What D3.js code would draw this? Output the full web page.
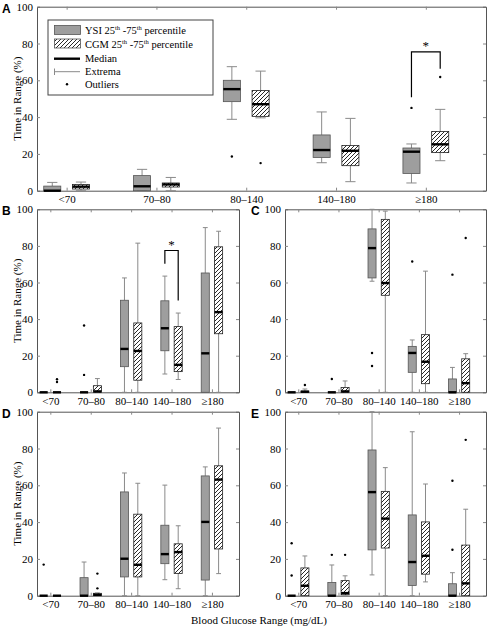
<!DOCTYPE html>
<html><head><meta charset="utf-8">
<script src="https://cdn.jsdelivr.net/npm/d3@7"></script>
<style>
body{margin:0;background:#fff;}
svg text{font-family:"Liberation Serif","Times New Roman",serif;}
</style></head>
<body>
<svg id="chart" width="488" height="628"></svg>
<script>
// ---------- DATA ----------
const categories = ["<70", "70\u201380", "80\u2013140", "140\u2013180", "\u2265180"];
const yTicks = [0, 20, 40, 60, 80, 100];
// box stats per category: [min, q1, median, q3, max]
const A_ysi = [[0,0,0,2.5,4.5],[0,0,2.4,8.2,11.6],[38.8,48.4,55.2,60,67.4],[15.2,18.1,22.1,30.3,42.8],[4.2,9.4,21.2,23.2,25.4]];
const A_ysiOut = [[],[],[18.6],[],[45]];
const A_cgm = [[0,0.9,2.2,3.4,4.7],[0,2.0,3.4,4.2,7.2],[39.6,40.4,47,54.5,65],[4.9,13.6,21.7,24.6,39.3],[16.3,20.7,25.2,32.2,44.2]];
const A_cgmOut = [[],[],[15],[],[61.8]];

const B_ysi = [[0,0,0,0,0],[0,0,0,0,0],[0,14,23.7,50.3,62.5],[10,22.7,35,50,63.5],[0,0,21.3,65.2,90]];
const B_ysiOut = [[],[36.5,9.5],[],[],[]];
const B_cgm = [[0,0,0,0,0],[0,0,0.5,3.6,7.5],[0,6.6,22.6,37.9,81.5],[7,11.3,15,35.9,43.3],[0,32,43.8,79.5,88]];
const B_cgmOut = [[7.1,5.6],[],[],[],[]];

const C_ysi = [[0,0,0,0,0],[0,0,0,0,0],[60.7,62.5,78.8,89.3,100],[0,10.9,21.5,25.1,28.6],[0,0,0,7.3,13.6]];
const C_ysiOut = [[],[7.3],[21.5,14.4],[71.5],[64.3]];
const C_cgm = [[0,0,0.3,0.7,1.8],[0,0,0.5,2.6,6.2],[0,53,59.7,94.5,99],[0,4.7,16.7,31.5,66.2],[0,0,5,18.3,21.1]];
const C_cgmOut = [[4],[],[],[],[84.3]];

const D_ysi = [[0,0,0,0,0],[0,0,0,9.8,18.3],[0,10.2,20.1,56.4,66.7],[8.7,17.4,22.6,38.3,60.1],[0,8.5,40.1,65.1,70]];
const D_ysiOut = [[16.9],[],[],[],[]];
const D_cgm = [[0,0,0,0,0],[0,0,0.5,1.3,1.5],[0,10.2,16.8,44.3,61.1],[3.8,12.1,23.7,28.2,38],[12,25.4,63.1,70.6,91.1]];
const D_cgmOut = [[],[12,4],[],[],[]];

const E_ysi = [[0,0,0,0,0],[0,0,0,7.2,16.7],[11.3,24.9,56.3,79.2,100],[0,5.6,18.3,43.9,89.1],[0,0,0,6.5,12.5]];
const E_ysiOut = [[28.5,11],[22.2],[],[],[25,62.5]];
const E_cgm = [[0,0,5.4,15.1,21.6],[0.5,0.5,1.4,8.2,10.8],[0,25.9,41.9,56.7,69.6],[7.5,11.7,21.7,40.1,60.7],[0,0,6.7,27.5,47]];
const E_cgmOut = [[],[22.2],[],[],[84.7]];

const panelLetters = ["A", "B", "C", "D", "E"];
// significance brackets: [category, leftBottom, top, rightBottom, star]
const A_sig = [5, 50.8, 75.5, 66.3, 79];
const B_sig = [4, 70.3, 77.5, 50.2, 81.3];

const legendLabels = ["Median", "Extrema", "Outliers"];

// ---------- DRAW ----------
const svg = d3.select("#chart");
const defs = svg.append("defs");
const pat = defs.append("pattern").attr("id","hatch").attr("patternUnits","userSpaceOnUse")
  .attr("width",4).attr("height",4);
pat.append("rect").attr("width",4).attr("height",4).attr("fill","#fff");
pat.append("path").attr("d","M-1,1 l2,-2 M0,4 l4,-4 M3,5 l2,-2").attr("stroke","#111").attr("stroke-width",0.9);

const panels = [
  {ysi:A_ysi, ysiO:A_ysiOut, cgm:A_cgm, cgmO:A_cgmOut, x0:37, x1:486, y0:6.7, y1:190.7, ylab:true, sig:A_sig, bw:0.19, off:0.16},
  {ysi:B_ysi, ysiO:B_ysiOut, cgm:B_cgm, cgmO:B_cgmOut, x0:37, x1:239, y0:209.3, y1:392.3, ylab:true, sig:B_sig, bw:0.2, off:0.165},
  {ysi:C_ysi, ysiO:C_ysiOut, cgm:C_cgm, cgmO:C_cgmOut, x0:285, x1:486, y0:209.3, y1:392.3, ylab:false, sig:null, bw:0.2, off:0.165},
  {ysi:D_ysi, ysiO:D_ysiOut, cgm:D_cgm, cgmO:D_cgmOut, x0:37, x1:239, y0:411.7, y1:595.7, ylab:true, sig:null, bw:0.2, off:0.165},
  {ysi:E_ysi, ysiO:E_ysiOut, cgm:E_cgm, cgmO:E_cgmOut, x0:285, x1:486, y0:411.7, y1:595.7, ylab:false, sig:null, bw:0.2, off:0.165}
];

const frameCol = "#555";
const whiskCol = "#8a8a8a";

panels.forEach((p, pi) => {
  const g = svg.append("g");
  const x = d3.scaleLinear().domain([0.67, 5.67]).range([p.x0, p.x1]);
  const y = d3.scaleLinear().domain([0, 100]).range([p.y1, p.y0]);
  const step = x(2) - x(1);

  const ax = (sel) => { sel.attr("font-family", null); sel.select(".domain").attr("stroke", frameCol).attr("fill","none"); sel.selectAll(".tick line").attr("stroke", "#888"); sel.selectAll("text").attr("fill","#000").style("font-family","Liberation Serif, serif").style("font-size","11px"); };
  g.append("g").attr("transform",`translate(${p.x0},0)`)
    .call(d3.axisLeft(y).tickValues(yTicks).tickSize(-3).tickSizeOuter(0).tickPadding(4)).call(ax);
  g.append("g").attr("transform",`translate(${p.x1},0)`)
    .call(d3.axisRight(y).tickValues(yTicks).tickSize(-3).tickSizeOuter(0).tickFormat("")).call(ax);
  g.append("g").attr("transform",`translate(0,${p.y1})`)
    .call(d3.axisBottom(x).tickValues([1,2,3,4,5]).tickFormat(i => categories[i-1]).tickSize(-3).tickSizeOuter(0).tickPadding(5)).call(ax);
  g.append("g").attr("transform",`translate(0,${p.y0})`)
    .call(d3.axisTop(x).tickValues([1,2,3,4,5]).tickSize(-3).tickSizeOuter(0).tickFormat("")).call(ax);

  const bwPx = p.bw * step;
  const drawBox = (stats, outs, dx, fill, stroke) => {
    stats.forEach((s, i) => {
      const cx = x(i + 1 + dx);
      const [mn, q1, md, q3, mx] = s;
      const bg = g.append("g");
      bg.append("line").attr("x1",cx).attr("x2",cx).attr("y1",y(q3)).attr("y2",y(mx)).attr("stroke",whiskCol).attr("stroke-width",1);
      bg.append("line").attr("x1",cx).attr("x2",cx).attr("y1",y(q1)).attr("y2",y(mn)).attr("stroke",whiskCol).attr("stroke-width",1);
      [mn, mx].forEach(v => {
        bg.append("line").attr("x1",cx - bwPx*0.3).attr("x2",cx + bwPx*0.3).attr("y1",y(v)).attr("y2",y(v)).attr("stroke",whiskCol).attr("stroke-width",1);
      });
      bg.append("rect").attr("x",cx - bwPx/2).attr("width",bwPx).attr("y",y(q3)).attr("height",Math.max(0,y(q1)-y(q3)))
        .attr("fill",fill).attr("stroke",stroke).attr("stroke-width",0.8);
      bg.append("line").attr("x1",cx - bwPx/2).attr("x2",cx + bwPx/2).attr("y1",y(md)).attr("y2",y(md)).attr("stroke","#000").attr("stroke-width",2.4);
      outs[i].forEach(v => {
        bg.append("circle").attr("cx",cx).attr("cy",y(v)).attr("r",1.2).attr("fill","#000");
      });
    });
  };
  drawBox(p.ysi, p.ysiO, -p.off, "#9e9e9e", "#555");
  drawBox(p.cgm, p.cgmO, p.off, "url(#hatch)", "#222");

  if (p.sig) {
    const [c, lb, top, rb, star] = p.sig;
    const xl = x(c - p.off), xr = x(c + p.off);
    g.append("path").attr("d",`M${xl},${y(lb)}V${y(top)}H${xr}V${y(rb)}`).attr("fill","none").attr("stroke","#000").attr("stroke-width",1.2);
    g.append("text").attr("x",(xl+xr)/2).attr("y",y(star)+5).attr("text-anchor","middle").style("font-size","13px").text("*");
  }

  if (p.ylab) {
    g.append("text").attr("transform",`translate(21,${(p.y0+p.y1)/2}) rotate(-90)`).attr("text-anchor","middle")
      .style("font-size","11px").text("Time in Range (%)");
  }
  const lx = p.x0 < 100 ? 2 : 251;
  g.append("text").attr("x",lx).attr("y",p.y0+6).text(panelLetters[pi])
    .style("font-family","Liberation Sans, Arial, sans-serif").style("font-weight","bold").style("font-size","12px");
});

// x axis title
svg.append("text").attr("x",259).attr("y",624).attr("text-anchor","middle").style("font-size","11px").text("Blood Glucose Range (mg/dL)");

// legend
const lg = svg.append("g");
lg.append("rect").attr("x",48).attr("y",20).attr("width",165).attr("height",75).attr("fill","#fff").attr("stroke","#444").attr("stroke-width",1);
lg.append("rect").attr("x",54.5).attr("y",25.5).attr("width",26).attr("height",9).attr("fill","#9e9e9e").attr("stroke","#555").attr("stroke-width",0.8);
lg.append("rect").attr("x",54.5).attr("y",39).attr("width",26).attr("height",9).attr("fill","url(#hatch)").attr("stroke","#555").attr("stroke-width",0.8);
const perc = (yy, name) => {
  const t = lg.append("text").attr("x",85).attr("y",yy).style("font-size","10.5px");
  t.append("tspan").text(name + " 25");
  t.append("tspan").attr("dy",-4).style("font-size","6.5px").text("th");
  t.append("tspan").attr("dy",4).text(" -75");
  t.append("tspan").attr("dy",-4).style("font-size","6.5px").text("th");
  t.append("tspan").attr("dy",4).text(" percentile");
};
perc(34, "YSI");
perc(47.5, "CGM");
lg.append("line").attr("x1",54).attr("x2",80).attr("y1",58.7).attr("y2",58.7).attr("stroke","#000").attr("stroke-width",2.4);
lg.append("line").attr("x1",54).attr("x2",80).attr("y1",71.7).attr("y2",71.7).attr("stroke",whiskCol).attr("stroke-width",1);
lg.append("line").attr("x1",54.5).attr("x2",54.5).attr("y1",68.5).attr("y2",75).attr("stroke",whiskCol).attr("stroke-width",1);
lg.append("circle").attr("cx",67).attr("cy",84.3).attr("r",1.2).attr("fill","#000");
legendLabels.forEach((t, i) => {
  lg.append("text").attr("x",85).attr("y",62.3 + i*13).style("font-size","10.5px").text(t);
});
</script>
</body></html>
